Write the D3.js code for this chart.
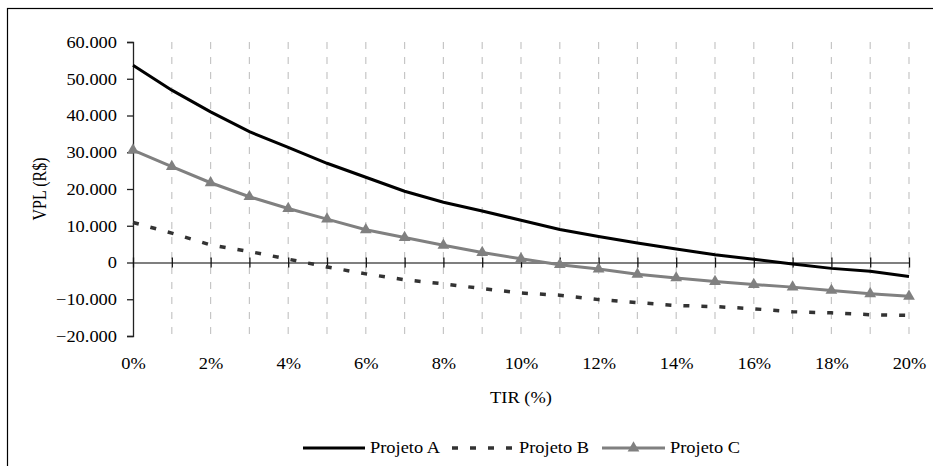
<!DOCTYPE html>
<html>
<head>
<meta charset="utf-8">
<script src="https://cdn.jsdelivr.net/npm/d3@7"></script>
<style>
  html, body { margin: 0; padding: 0; background: #fff; }
  svg { display: block; }
</style>
</head>
<body>
<svg id="chart" width="933" height="466" font-family="'Liberation Serif', 'Times New Roman', Times, serif"></svg>
<script>
// Taxas de desconto (%) e VPL (R$) dos três projetos
const rates = [0, 1, 2, 3, 4, 5, 6, 7, 8, 9, 10, 11, 12, 13, 14, 15, 16, 17, 18, 19, 20];
const projetoA = [53700, 46900, 41000, 35600, 31300, 27000, 23200, 19400, 16400, 14000, 11500,
                  9000, 7100, 5300, 3700, 2100, 900, -400, -1600, -2400, -3800];
const projetoB = [10900, 8000, 4800, 3000, 900, -1200, -3100, -4700, -5800, -7100, -8300,
                  -8900, -10100, -10900, -11700, -12000, -12600, -13400, -13700, -14200, -14400];
const projetoC = [30600, 26100, 21700, 17900, 14700, 11800, 8900, 6800, 4700, 2700, 1000,
                  -600, -1800, -3200, -4200, -5200, -6000, -6700, -7600, -8500, -9200];
const yTicks = [-20000, -10000, 0, 10000, 20000, 30000, 40000, 50000, 60000];
const xLabelTicks = [0, 2, 4, 6, 8, 10, 12, 14, 16, 18, 20];
const seriesNames = ["Projeto A", "Projeto B", "Projeto C"];

const ptBR = d3.formatLocale({ decimal: ",", thousands: ".", grouping: [3], currency: ["R$", ""] });
const fmtNum = ptBR.format(",.0f");

const svg = d3.select("#chart");
const FONT = "'Liberation Serif', 'Times New Roman', Times, serif";
const SX = 1.15; // horizontal text stretch

// outer frame
svg.append("rect")
  .attr("x", 7.5).attr("y", 8.5)
  .attr("width", 1000).attr("height", 1000)
  .attr("fill", "none").attr("stroke", "#000").attr("stroke-width", 1.2);

const x = d3.scaleLinear().domain([0, 20]).range([133, 909]);
const y = d3.scaleLinear().domain([-20000, 60000]).range([336, 42]);

// vertical dashed gridlines
svg.append("g")
  .selectAll("line")
  .data(rates.filter(r => r > 0))
  .join("line")
  .attr("x1", d => x(d)).attr("x2", d => x(d))
  .attr("y1", y(60000)).attr("y2", y(-20000))
  .attr("stroke", "#c6c6c6").attr("stroke-width", 1.2)
  .attr("stroke-dasharray", "7,8");

// y axis
const yAxis = svg.append("g")
  .attr("transform", `translate(${x(0)},0)`)
  .call(d3.axisLeft(y).tickValues(yTicks).tickSize(6).tickPadding(10).tickFormat(fmtNum));
yAxis.attr("font-family", FONT);
yAxis.select(".domain").attr("stroke", "#222").attr("stroke-width", 1.3);
yAxis.selectAll(".tick line").attr("stroke", "#222").attr("stroke-width", 1.3);
yAxis.selectAll(".tick text")
  .attr("font-size", 16)
  .attr("fill", "#000")
  .attr("transform", `scale(${SX},1)`)
  .attr("x", -16 / SX)
  .attr("dy", "0.34em");

// zero axis with crossing ticks
const xAxis = svg.append("g")
  .attr("transform", `translate(0,${y(0)})`)
  .call(d3.axisBottom(x).tickValues(rates).tickSizeOuter(0).tickFormat(""));
xAxis.select(".domain").attr("stroke", "#555").attr("stroke-width", 1.6);
xAxis.selectAll(".tick line").attr("y1", -5).attr("y2", 5).attr("stroke", "#111").attr("stroke-width", 1.3);

// x labels along the bottom of the plot
const xLab = svg.append("g")
  .attr("transform", `translate(0,${y(-20000)})`)
  .call(d3.axisBottom(x).tickValues(xLabelTicks).tickSize(0).tickPadding(0).tickFormat(d => d + "%"));
xLab.attr("font-family", FONT);
xLab.select(".domain").remove();
xLab.selectAll(".tick text")
  .attr("font-size", 16)
  .attr("fill", "#000")
  .attr("y", 0).attr("dy", 0)
  .attr("transform", `translate(0,33) scale(${SX},1)`);

// axis titles
svg.append("text")
  .attr("transform", `translate(${(x(0) + x(20)) / 2},403) scale(${SX},1)`)
  .attr("text-anchor", "middle").attr("font-size", 16)
  .text("TIR (%)");
svg.append("text")
  .attr("transform", `translate(46,${(y(60000) + y(-20000)) / 2}) rotate(-90) scale(1,${SX})`)
  .attr("text-anchor", "middle").attr("font-size", 16)
  .text("VPL (R$)");

const line = d3.line().x((d, i) => x(rates[i])).y(d => y(d));

const styleA = { stroke: "#000", width: 3, dash: null };
const styleB = { stroke: "#333", width: 3.5, dash: "6,12" };
const styleC = { stroke: "#808080", width: 3, dash: null };

svg.append("path").datum(projetoB)
  .attr("d", line).attr("fill", "none")
  .attr("stroke", styleB.stroke).attr("stroke-width", styleB.width)
  .attr("stroke-dasharray", styleB.dash);

svg.append("path").datum(projetoC)
  .attr("d", line).attr("fill", "none")
  .attr("stroke", styleC.stroke).attr("stroke-width", styleC.width);

const tri = d3.symbol().type(d3.symbolTriangle).size(60);
svg.append("g").selectAll("path")
  .data(projetoC)
  .join("path")
  .attr("d", tri)
  .attr("transform", (d, i) => `translate(${x(rates[i])},${y(d)})`)
  .attr("fill", "#808080");

svg.append("path").datum(projetoA)
  .attr("d", line).attr("fill", "none")
  .attr("stroke", styleA.stroke).attr("stroke-width", styleA.width);

// legend
const legendY = 448;
const legendItems = [
  { name: seriesNames[0], x0: 303, x1: 365, st: styleA, marker: false },
  { name: seriesNames[1], x0: 452, x1: 514, st: styleB, marker: false },
  { name: seriesNames[2], x0: 602, x1: 665, st: styleC, marker: true }
];
const lg = svg.append("g");
legendItems.forEach(it => {
  lg.append("line")
    .attr("x1", it.x0).attr("x2", it.x1)
    .attr("y1", legendY).attr("y2", legendY)
    .attr("stroke", it.st.stroke).attr("stroke-width", it.st.width)
    .attr("stroke-dasharray", it.st.dash);
  if (it.marker) {
    lg.append("path").attr("d", tri)
      .attr("transform", `translate(${(it.x0 + it.x1) / 2},${legendY})`)
      .attr("fill", "#808080");
  }
  lg.append("text")
    .attr("transform", `translate(${it.x1 + 5},${legendY + 5}) scale(${SX},1)`)
    .attr("font-size", 16)
    .text(it.name);
});
</script>
</body>
</html>
